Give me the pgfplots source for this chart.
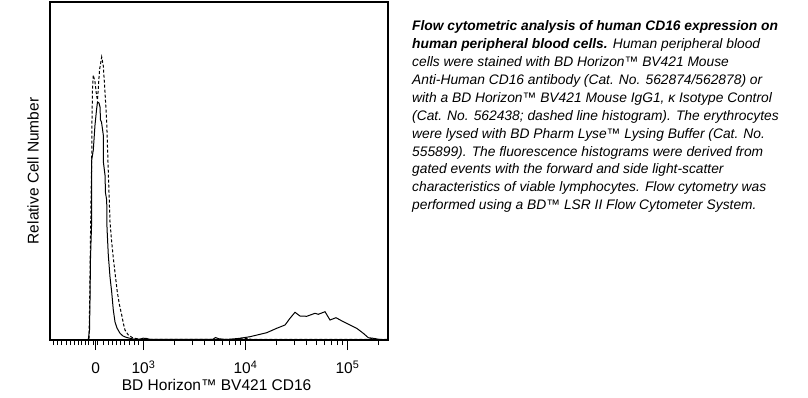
\documentclass[border=0pt]{standalone}
\usepackage{fontspec}
\setmainfont{Liberation Sans}
\usepackage{pgfplots}
\pgfplotsset{compat=1.18}
\begin{document}
\begin{tikzpicture}
\useasboundingbox (0,0) rectangle (808pt,397pt);
\begin{axis}[
  at={(50pt,57pt)}, anchor=south west,
  scale only axis, width=338pt, height=338pt,
  xmin=2.0833, xmax=5.397, ymin=0, ymax=338,
  axis line style={line width=1.1pt},
  xtick={2.531,3,4,5},
  xticklabels={0,10\textsuperscript{3},10\textsuperscript{4},10\textsuperscript{5}},
  minor xtick={2.1127,2.1569,2.199,2.2402,2.2794,2.3186,2.3578,2.3922,2.4294,2.4627,2.5098,2.549,2.603,2.652,2.6912,2.7333,2.7725,2.8157,2.8647,2.9069,2.9461,3.301,3.477,3.602,3.699,3.778,3.845,3.903,3.954,4.301,4.477,4.602,4.699,4.778,4.845,4.903,4.954,5.301},
  ytick=\empty,
  xtick pos=left,
  tick align=outside,
  major tick length=10pt, minor tick length=5pt,
  tick style={black, line width=0.9pt},
  tick label style={font=\fontsize{15.5}{18}\selectfont},
  typeset ticklabels with strut,
  xticklabel style={yshift=-7pt},
  xlabel={BD Horizon™ BV421 CD16},
  ylabel={Relative Cell Number},
  every axis x label/.style={at={(axis description cs:0.493,-0.148)}, anchor=base, font=\fontsize{15.5}{18}\selectfont},
  every axis y label/.style={at={(axis description cs:-0.034,0.5)}, rotate=90, anchor=base, font=\fontsize{15.5}{18}\selectfont},
]
\addplot[black, line width=1pt, dash pattern=on 3pt off 2pt] coordinates {
(2.0833,0.5) (2.4657,0.5) (2.4725,40) (2.4784,90) (2.4853,140) (2.4922,180) (2.4951,220) (2.5000,250) (2.5078,265) (2.5245,258) (2.5392,245) (2.5490,240) (2.5588,255) (2.5686,270) (2.5902,283) (2.6059,274) (2.6225,248) (2.6392,218) (2.6549,168) (2.6716,118) (2.6863,100) (2.7039,82) (2.7255,63) (2.7431,48) (2.7647,35) (2.7863,25) (2.8039,16) (2.8186,10) (2.8510,5) (2.8971,2) (2.9657,0.8) (3.2,0.6) (3.9,0.6) (3.96,1.8) (4.02,1.5) (4.06,0.6) (5.2,0.6) (5.24,1.5) (5.28,0.6) (5.397,0.6)
};
\addplot[black, line width=1pt] coordinates {
(2.0833,0.5) (2.4588,0.5) (2.4706,10) (2.4755,40) (2.4804,82) (2.4922,120) (2.4922,180) (2.5078,190) (2.5245,215) (2.5392,230) (2.5490,238) (2.5637,237) (2.5735,233) (2.5784,220) (2.5882,218) (2.6059,205) (2.6078,177) (2.6225,165) (2.6275,147) (2.6392,140) (2.6422,112) (2.6549,85) (2.6716,63) (2.6882,48) (2.7039,30) (2.7206,18) (2.7402,12) (2.7696,6.7) (2.7990,4) (2.8353,2.5) (2.8971,1) (2.9657,0.8) (2.995,1.8) (3.03,1.5) (3.064,0.6) (3.68,0.6) (3.705,2.5) (3.74,1.2) (3.80,0.6) (3.85,0.8) (3.9461,1.7) (4.0441,3.3) (4.1422,5.7) (4.2078,7.3) (4.3059,11.7) (4.3873,15) (4.4363,21.7) (4.4853,27.7) (4.5343,24) (4.6000,23.7) (4.6814,26.7) (4.7137,25.7) (4.7794,28.3) (4.8284,20) (4.8873,22.3) (4.9588,18.3) (5.0245,15) (5.0902,11.7) (5.1549,6.7) (5.2039,2.3) (5.2529,1.7) (5.3186,0.5) (5.397,0.5)
};
\end{axis}
\begin{scope}[every node/.style={anchor=base west, inner sep=0pt, font=\fontsize{13.8}{17.9}\selectfont\itshape}]
\node at (412pt,366.3pt) {\textbf{Flow cytometric analysis of human CD16 expression on}};
\node at (412pt,348.4pt) {\textbf{human peripheral blood cells.} Human peripheral blood};
\node at (412pt,330.5pt) {cells were stained with BD Horizon™ BV421 Mouse};
\node at (412pt,312.6pt) {Anti-Human CD16 antibody (Cat. No. 562874/562878) or};
\node at (412pt,294.7pt) {with a BD Horizon™ BV421 Mouse IgG1, κ Isotype Control};
\node at (412pt,276.8pt) {(Cat. No. 562438; dashed line histogram). The erythrocytes};
\node at (412pt,258.9pt) {were lysed with BD Pharm Lyse™ Lysing Buffer (Cat. No.};
\node at (412pt,241.0pt) {555899). The fluorescence histograms were derived from};
\node at (412pt,223.1pt) {gated events with the forward and side light-scatter};
\node at (412pt,205.2pt) {characteristics of viable lymphocytes. Flow cytometry was};
\node at (412pt,187.3pt) {performed using a BD™ LSR II Flow Cytometer System.};
\end{scope}
\end{tikzpicture}
\end{document}
